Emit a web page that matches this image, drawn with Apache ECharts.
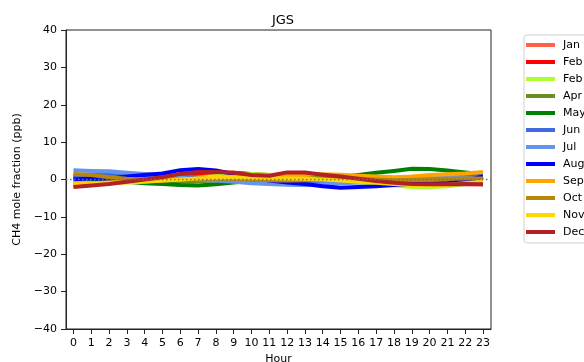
<!DOCTYPE html>
<html>
<head>
<meta charset="utf-8">
<script src="https://cdn.jsdelivr.net/npm/echarts@6/dist/echarts.min.js"></script>
<style>html,body{margin:0;padding:0;background:#fff;}#c{width:584px;height:362px;}</style>
</head>
<body>
<div id="c"></div>
<script>
const hours = [0,1,2,3,4,5,6,7,8,9,10,11,12,13,14,15,16,17,18,19,20,21,22,23];
const seriesNames = ['Jan','Feb','Feb\u200b','Apr','May','Jun','Jul','Aug','Sep','Oct','Nov','Dec'];
const jan = [-1,-0.8,-0.6,-0.3,0,0.4,0.8,1.2,1.5,1.6,1.4,1,0.8,0.6,0.4,0.2,0,-0.3,-0.5,-0.7,-0.8,-0.8,-0.9,-1];
const feb = [-1.5,-1.3,-1,-0.6,-0.2,0.3,0.9,1.4,1.8,1.8,1.5,1.2,1.3,1.4,1,0.6,0.1,-0.4,-0.8,-1.1,-1.2,-1.2,-1.2,-1.3];
const feb2 = [-0.5,-0.4,-0.3,-0.2,0,0.2,0.4,0.6,0.9,1.2,1.5,1.3,0.8,0.3,0,-0.4,-0.8,-1.2,-1.6,-2,-2.1,-1.8,-1.2,-0.8];
const apr = [0.8,0.6,0.3,0,-0.3,-0.5,-0.6,-0.5,-0.3,0,0.3,0.5,0.6,0.5,0.3,0,-0.2,-0.3,-0.3,-0.2,0,0.2,0.3,0.4];
const may = [0.5,0.2,-0.3,-0.6,-1,-1.2,-1.5,-1.6,-1.3,-0.8,-0.3,0,0.2,0.3,0.5,0.7,1.2,1.8,2.3,2.9,2.8,2.4,1.9,1.5];
const jun = [1,1.2,1.4,1.5,1.4,1.2,1,0.6,0.3,-0.2,-0.6,-0.9,-1,-1,-0.8,-0.5,-0.3,0,0.3,0.6,0.8,0.8,0.9,1];
const jul = [2.5,2.3,2.2,1.8,1.5,1,0.5,0,-0.3,-0.6,-1,-1.2,-1.4,-1.5,-1.3,-1,-0.8,-0.5,-0.2,0.3,0.5,0.6,0.4,0.2];
const aug = [0,0.3,0.2,0.8,1.2,1.6,2.5,2.8,2.4,1.5,0.5,-0.3,-0.8,-1.2,-1.8,-2.2,-2,-1.8,-1.5,-1.2,-1.2,-1,-0.3,0.8];
const sep = [-1,-1,-0.8,-0.6,-0.5,-0.3,0,0.3,0.5,0.6,0.7,0.8,1,1.2,1.4,1.3,1,0.8,0.6,0.8,1.2,1.4,1.6,2];
const oct = [1.5,1.2,0.6,0.2,0,-0.2,0,0.2,0.3,0.2,0,-0.2,-0.3,-0.2,0,0.2,0.2,0,-0.2,-0.1,0,0.2,0.3,0.3];
const nov = [-1.3,-1.2,-0.9,-0.8,-0.6,-0.3,0,0.3,0.5,0.6,0.5,0.4,0.3,0.2,0,-0.3,-0.6,-0.9,-1.2,-1.5,-1.6,-1.4,-1,-0.7];
const dec = [-2,-1.6,-1.2,-0.6,0,0.6,1.5,2,2,1.8,1.2,1,1.9,1.9,1.3,0.8,0.2,-0.4,-0.9,-1.2,-1.3,-1.3,-1.2,-1.3];
const allValues = [jan,feb,feb2,apr,may,jun,jul,aug,sep,oct,nov,dec];
const colors = ['#ff6347','#ff0000','#adff2f','#6b8e23','#008000','#4169e1','#6495ed','#0000ff','#ffa500','#b8860b','#ffd700','#b22222'];
const zeroLine = [0,0];
const zeroX = [-0.42,23.45];

const FONT = 'DejaVu Sans';
const series = allValues.map((vals,i)=>({
  name: seriesNames[i],
  type: 'line',
  data: hours.map((h,j)=>[h,vals[j]]),
  showSymbol: false,
  symbol: 'none',
  lineStyle: {width: 4, color: colors[i], cap: 'butt', join: 'round'},
  itemStyle: {color: colors[i]},
  z: 2 + i,
  silent: true,
  animation: false
}));
series.push({
  name: '_zero',
  type: 'line',
  data: zeroX.map((x,j)=>[x,zeroLine[j]]),
  symbol: 'none',
  lineStyle: {width: 1.5, color: '#707070', type: [1.5,2.5]},
  z: 20,
  silent: true,
  animation: false
});

const legendData = seriesNames.map((n,i)=>({name:n, icon:'rect', itemStyle:{color:colors[i]}}));

const chart = echarts.init(document.getElementById('c'), null, {renderer:'canvas'});
chart.setOption({
  animation: false,
  title: {text: 'JGS', left: 278, top: 9, textAlign: 'center',
    textStyle: {fontFamily: FONT, fontSize: 13, fontWeight: 'normal', color: '#000'}},
  grid: {left: 66, right: 93, top: 30, bottom: 33, show: true, borderColor: '#222', borderWidth: 1,
    containLabel: false, outerBoundsMode: 'none'},
  legend: {
    orient: 'vertical', left: 524, top: 35,
    data: legendData,
    itemWidth: 29, itemHeight: 4, itemGap: 3,
    padding: [3, 10, 4, 2],
    borderColor: '#d0d0d0', borderWidth: 1, borderRadius: 3,
    textStyle: {fontFamily: FONT, fontSize: 11, color: '#000', lineHeight: 14, padding: [0,0,0,3]},
    selectedMode: false
  },
  xAxis: {
    type: 'value', min: zeroX[0], max: zeroX[1],
    name: 'Hour', nameLocation: 'middle', nameGap: 24,
    nameTextStyle: {fontFamily: FONT, fontSize: 11, color: '#000'},
    axisLine: {show: true, onZero: false, lineStyle: {color: '#222'}},
    axisTick: {show: true, customValues: hours, length: 5, lineStyle: {color: '#222'}},
    axisLabel: {customValues: hours, fontFamily: FONT, fontSize: 11, color: '#000', margin: 9},
    splitLine: {show: false}
  },
  yAxis: {
    type: 'value', min: -40, max: 40, interval: 10,
    name: 'CH4 mole fraction (ppb)', nameLocation: 'middle', nameGap: 33,
    nameTextStyle: {fontFamily: FONT, fontSize: 11, color: '#000'},
    axisLine: {show: true, onZero: false, lineStyle: {color: '#222'}},
    axisTick: {show: true, length: 5, lineStyle: {color: '#222'}},
    axisLabel: {fontFamily: FONT, fontSize: 11, color: '#000', margin: 9,
      formatter: v => String(v).replace('-', '\u2212')},
    splitLine: {show: false}
  },
  series: series
});
</script>
</body>
</html>
